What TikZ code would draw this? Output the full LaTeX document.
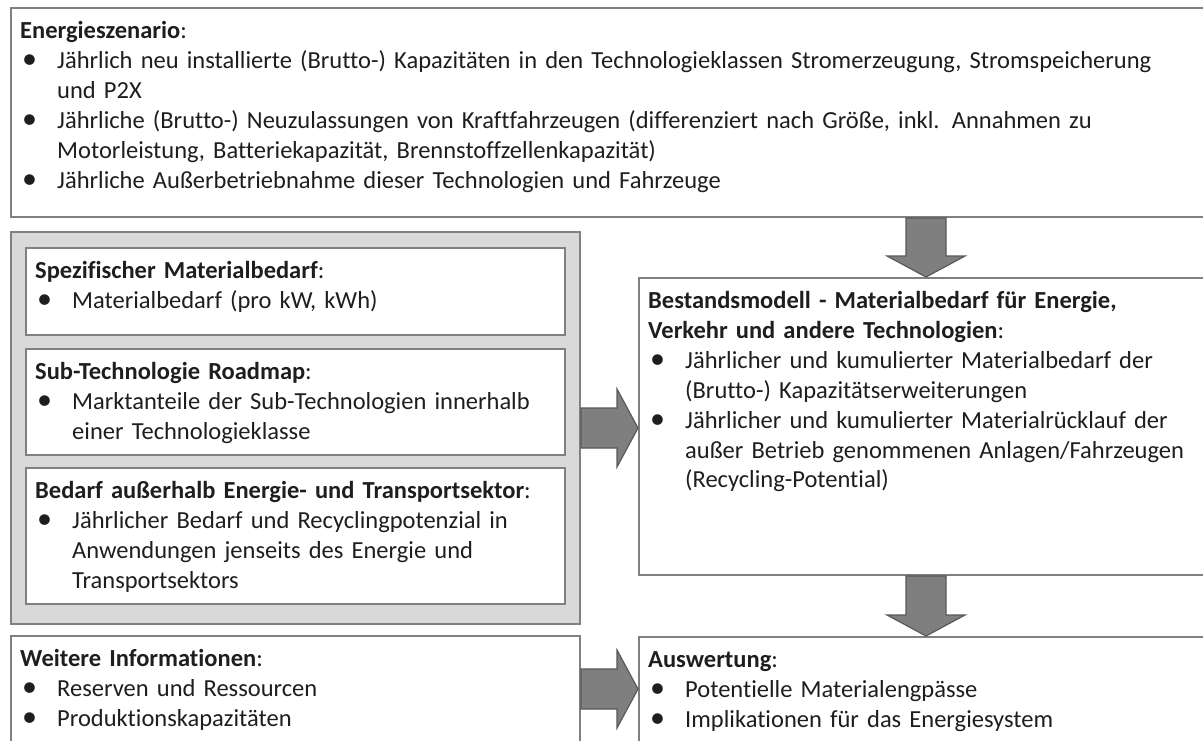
\documentclass[tikz,border=0pt]{standalone}
\usepackage{fontspec}
\setmainfont{Carlito}[Ligatures=NoCommon]
\usetikzlibrary{calc}
\definecolor{boxline}{RGB}{128,128,128}
\definecolor{panelfill}{RGB}{217,217,217}
\definecolor{arrowfill}{RGB}{127,127,127}
\definecolor{arrowline}{RGB}{89,89,89}
\definecolor{txt}{RGB}{30,30,30}
\newcommand\hd[1]{\textbf{#1}:}
\newcommand\bl{\par\hangindent=37pt\hangafter=1\noindent\makebox[37pt][l]{\hspace{2pt}\smash{\raisebox{-0.4pt}{\fontsize{30}{29.9}\selectfont\textbullet}}}}
\newcommand\blockarrow[3]{%
  \coordinate (#3h) at ($(#2)!21pt!(#1)$);
  \draw[blockarr] ($(#1)!20pt!90:(#2)$) -- ($(#3h)!20pt!90:(#2)$) -- ($(#3h)!39pt!90:(#2)$) -- (#2)
    -- ($(#3h)!39pt!-90:(#2)$) -- ($(#3h)!20pt!-90:(#2)$) -- ($(#1)!20pt!-90:(#2)$) -- cycle;}
\tikzset{
  box/.style={draw=boxline, line width=2pt, fill=white, rectangle, inner sep=0, anchor=north west},
  panel/.style={box, fill=panelfill},
  txtnode/.style={anchor=base west, inner sep=0, text=txt, font=\fontsize{24.5}{29.9}\selectfont, text width=1180pt},
  blockarr/.style={fill=arrowfill, draw=arrowline, line width=1.2pt, line join=miter}
}
\begin{document}
\begin{tikzpicture}[x=1pt,y=-1pt]
\useasboundingbox (0,0) rectangle (1203,740);
\fill[white] (0,0) rectangle (1203,740);
\clip (0,0) rectangle (1203,740);

% boxes
\node[box, minimum width=1202pt, minimum height=209pt] (top) at (10,7) {};
\node[panel, minimum width=569pt, minimum height=392pt] (panel) at (10,231) {};
\node[box, minimum width=539pt, minimum height=87pt] (b1) at (25,247) {};
\node[box, minimum width=539pt, minimum height=106pt] (b2) at (25,348) {};
\node[box, minimum width=539pt, minimum height=136pt] (b3) at (25,467) {};
\node[box, minimum width=569pt, minimum height=106pt] (weit) at (10,635) {};
\node[box, minimum width=574pt, minimum height=297pt] (best) at (638,277) {};
\node[box, minimum width=574pt, minimum height=106pt] (ausw) at (638,636) {};

% texts
\node[txtnode] (ttop) at ($(top.north west)+(10,31.5)$) {\hd{Energieszenario}%
\bl Jährlich neu installierte (Brutto-) Kapazitäten in den Technologieklassen Stromerzeugung, Stromspeicherung\newline und P2X%
\bl Jährliche (Brutto-) Neuzulassungen von Kraftfahrzeugen (differenziert nach Größe, inkl. Annahmen zu\newline Motorleistung, Batteriekapazität, Brennstoffzellenkapazität)%
\bl Jährliche Außerbetriebnahme dieser Technologien und Fahrzeuge\par};

\node[txtnode] (tb1) at ($(b1.north west)+(10,31.5)$) {\hd{Spezifischer Materialbedarf}%
\bl Materialbedarf (pro kW, kWh)\par};

\node[txtnode] (tb2) at ($(b2.north west)+(10,31.5)$) {\hd{Sub-Technologie Roadmap}%
\bl Marktanteile der Sub-Technologien innerhalb\newline einer Technologieklasse\par};

\node[txtnode] (tb3) at ($(b3.north west)+(10,31.5)$) {\hd{Bedarf außerhalb Energie- und Transportsektor}%
\bl Jährlicher Bedarf und Recyclingpotenzial in\newline Anwendungen jenseits des Energie und\newline Transportsektors\par};

\node[txtnode] (tweit) at ($(weit.north west)+(10,31.5)$) {\hd{Weitere Informationen}%
\bl Reserven und Ressourcen%
\bl Produktionskapazitäten\par};

\node[txtnode] (tbest) at ($(best.north west)+(10,31.5)$) {\textbf{Bestandsmodell - Materialbedarf für Energie,}\newline\hd{Verkehr und andere Technologien}%
\bl Jährlicher und kumulierter Materialbedarf der\newline (Brutto-) Kapazitätserweiterungen%
\bl Jährlicher und kumulierter Materialrücklauf der\newline außer Betrieb genommenen Anlagen/Fahrzeugen\newline (Recycling-Potential)\par};

\node[txtnode] (tausw) at ($(ausw.north west)+(10,31.5)$) {\hd{Auswertung}%
\bl Potentielle Materialengpässe%
\bl Implikationen für das Energiesystem\par};

% arrows
\coordinate (a1s) at (top.south -| best.north);
\blockarrow{a1s}{best.north}{a1}
\blockarrow{best.south}{ausw.north}{a2}
\coordinate (a3e) at (panel.east -| best.west);
\blockarrow{panel.east}{a3e}{a3}
\coordinate (a4e) at (weit.east -| ausw.west);
\blockarrow{weit.east}{a4e}{a4}
\end{tikzpicture}
\end{document}
